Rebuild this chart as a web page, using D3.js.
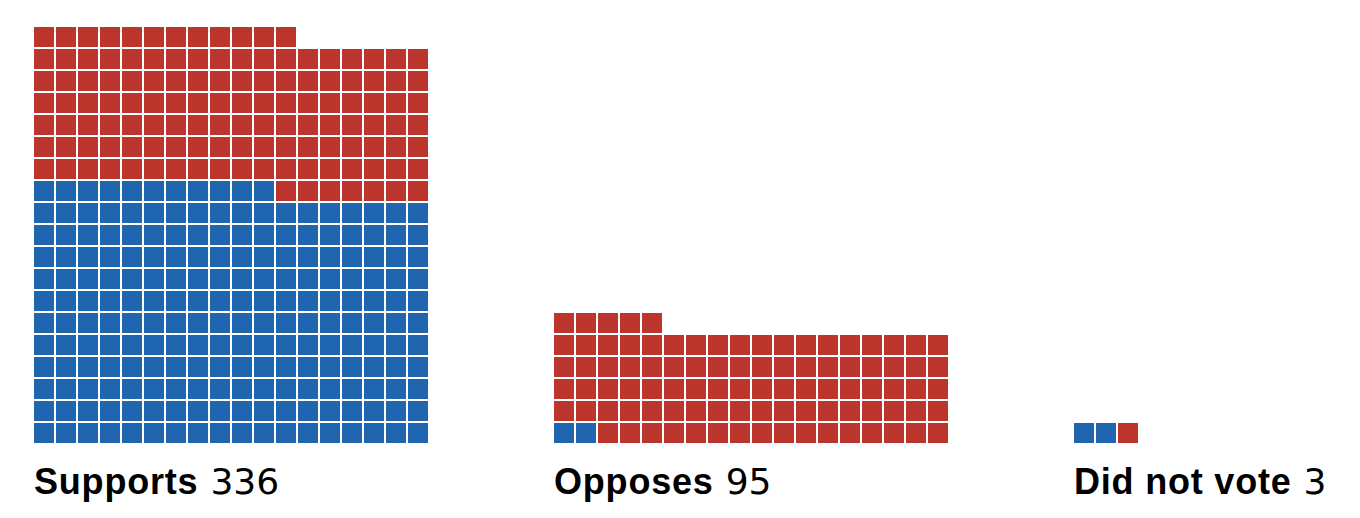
<!DOCTYPE html>
<html>
<head>
<meta charset="utf-8">
<script src="https://cdn.jsdelivr.net/npm/d3@7"></script>
<style>
  html, body { margin: 0; padding: 0; background: #fff; }
  svg { display: block; }
</style>
</head>
<body>
<svg id="chart" width="1360" height="518"></svg>
<script>
const groups = ["Supports", "Opposes", "Did not vote"];
const totals = [336, 95, 3];
const blueCounts = [209, 2, 2];
const redCounts = [127, 93, 1];
const columns = 18;

const colors = { blue: "#1f65b0", red: "#bb352d" };

const svg = d3.select("#chart");

const groupX = d3.scaleLinear().domain([0, groups.length - 1]).range([34, 1074]);
const colX = d3.scaleLinear().domain([0, columns]).range([0, 396]);
const rowY = d3.scaleLinear().domain([0, 1]).range([423, 401]);
const cellSize = 20;

const cells = [];
groups.forEach((g, gi) => {
  for (let k = 0; k < totals[gi]; k++) {
    cells.push({
      group: gi,
      col: k % columns,
      row: Math.floor(k / columns),
      party: k < blueCounts[gi] ? "blue" : "red"
    });
  }
});

svg.append("g").selectAll("rect").data(cells).join("rect")
  .attr("x", d => groupX(d.group) + colX(d.col))
  .attr("y", d => rowY(d.row))
  .attr("width", cellSize)
  .attr("height", cellSize)
  .attr("fill", d => colors[d.party]);

const labels = svg.append("g").selectAll("text").data(groups).join("text")
  .attr("x", (d, i) => groupX(i))
  .attr("y", 494)
  .attr("font-size", 36)
  .attr("fill", "#000");

labels.append("tspan")
  .attr("font-family", "'Liberation Sans', Arial, sans-serif")
  .attr("font-weight", "bold")
  .attr("letter-spacing", 0.8)
  .text(d => d);
labels.append("tspan")
  .attr("dx", 12)
  .attr("font-family", "'DejaVu Sans', sans-serif")
  .attr("font-weight", "normal")
  .text((d, i) => totals[i]);
</script>
</body>
</html>
